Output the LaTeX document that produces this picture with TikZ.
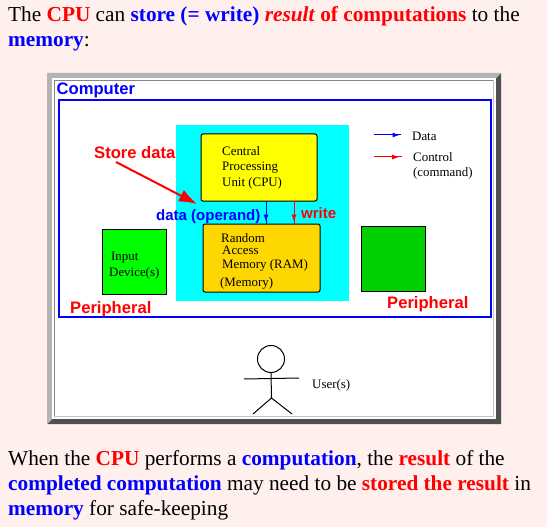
\documentclass[tikz,border=0pt]{standalone}
\usepackage{fontspec}
\setmainfont{Liberation Serif}
\newfontfamily\lsans{Liberation Sans}
\usetikzlibrary{arrows.meta,decorations.markings}
\definecolor{pagebg}{HTML}{FFF0EE}
\definecolor{blueT}{HTML}{0000FF}
\definecolor{redT}{HTML}{FF0000}
\definecolor{bezL}{HTML}{B4B4B4}
\definecolor{bezD}{HTML}{505050}
\definecolor{ramc}{HTML}{FFD700}
\definecolor{greenb}{HTML}{00D000}
\definecolor{cyanb}{HTML}{00FFFF}
\definecolor{yellowb}{HTML}{FFFF00}
\definecolor{greena}{HTML}{00FF00}
\tikzset{
  x=1pt,y=-1pt,
  line/.style={anchor=base west,inner sep=0pt,font=\fontsize{21.3}{24}\selectfont},
  lab/.style={anchor=base west,inner sep=0pt,font=\lsans\bfseries\fontsize{16.6}{18}\selectfont},
  labs/.style={anchor=base west,inner sep=0pt,font=\lsans\bfseries\fontsize{15}{18}\selectfont},
  small/.style={anchor=base west,inner sep=0pt,font=\fontsize{12.9}{14}\selectfont},
  boxr/.style={draw=black,line width=1pt,rounded corners=2pt,outer sep=0pt,inner sep=0pt,anchor=north west},
  boxs/.style={draw=black,line width=1pt,outer sep=0pt,inner sep=0pt,anchor=north west},
  flow/.style={line width=1pt,postaction={decorate},decoration={markings,mark=at position #1 with {\arrow{Latex[length=7pt,width=5pt]}}}},
  limb/.style={draw=black,line width=1pt},
}
\newcommand{\rd}[1]{\textcolor{redT}{\textbf{#1}}}
\newcommand{\bl}[1]{\textcolor{blueT}{\textbf{#1}}}
\begin{document}
\begin{tikzpicture}
\useasboundingbox (0,0) rectangle (547,527);
\fill[pagebg] (0,0) rectangle (547,527);
% bezel
\fill[bezD] (47,424) -- (501,424) -- (501,73) -- (496,78) -- (496,419) -- (52,419) -- cycle;
\fill[bezL] (47,424) -- (47,73) -- (501,73) -- (496,78) -- (52,78) -- (52,419) -- cycle;
\fill[white] (52,78) rectangle (496,419);
\draw[color=bezD!70,line width=.8pt] (54,416.5) -- (54,80) -- (493.5,80);
\draw[color=bezL!80,line width=.8pt] (54,416.5) -- (493.5,416.5) -- (493.5,80);
% computer
\node[draw=blueT,line width=2pt,minimum width=432pt,minimum height=217pt,inner sep=0pt,outer sep=0pt,anchor=north west] (computer) at (59,100) {};
\fill[cyanb] (176,125) rectangle (349,301);
\node[lab,text=blueT] (computerlabel) at (56.5,95) {Computer};
% boxes
\node[boxr,fill=yellowb,minimum width=116pt,minimum height=67pt] (cpu) at (201,134) {};
\node[boxr,fill=ramc,minimum width=117pt,minimum height=68pt] (ram) at (203,224) {};
\node[boxs,fill=greena,minimum width=64pt,minimum height=65pt] (input) at (102,229) {};
\node[boxs,fill=greenb,minimum width=64pt,minimum height=65pt] (output) at (361,226) {};
% cpu text
\node[small] (t1) at (222,156) {Central};
\node[small] (t2) at (222,171) {Processing};
\node[small] (t3) at (222,186) {Unit (CPU)};
% ram text
\node[small] (t4) at (221,242) {Random};
\node[small] (t5) at (222,254) {Access};
\node[small] (t6) at (222,268) {Memory (RAM)};
\node[small] (t7) at (220,286) {(Memory)};
% input text
\node[small] (t8) at (111,260) {Input};
\node[small] (t9) at (109,276) {Device(s)};
% connectors
\coordinate (cpuA) at (266,201); \coordinate (ramA) at (266,224);
\coordinate (cpuB) at (294,201); \coordinate (ramB) at (294,224);
\draw[blueT,flow=.9] (cpuA) -- (ramA);
\draw[redT,flow=.9] (cpuB) -- (ramB);
% labels
\node[lab,text=redT] (storelabel) at (94,158) {Store data};
\node[labs,text=blueT] (datalabel) at (156,220) {data (operand)};
\node[labs,text=redT] (writelabel) at (301,218) {write};
\node[lab,text=redT] (p1) at (70,313) {Peripheral};
\node[lab,text=redT] (p2) at (387,308) {Peripheral};
\coordinate (storeS) at (116,162); \coordinate (storeE) at (197,204);
\draw[redT,line width=2pt,-{Latex[length=18pt,width=13pt]}] (storeS) -- (storeE);
% legend
\coordinate (l1a) at (374,135); \coordinate (l1b) at (401,135);
\coordinate (l2a) at (374,157); \coordinate (l2b) at (402,157);
\draw[blueT,flow=.95] (l1a) -- (l1b);
\draw[redT,flow=.9] (l2a) -- (l2b);
\node[small] (ld) at (412,140) {Data};
\node[small] (lc) at (413,161) {Control};
\node[small] (lc2) at (413,176) {(command)};
% user
\node[draw=black,line width=1pt,circle,minimum size=27pt,inner sep=0pt,outer sep=0pt] (head) at (271,359) {};
\coordinate (hip) at (271.5,398); \coordinate (armL) at (244,379); \coordinate (armR) at (299,378);
\coordinate (legL) at (253,414); \coordinate (legR) at (292,414);
\draw[limb] (head.south) -- (hip);
\draw[limb] (armL) -- (armR);
\draw[limb] (legL) -- (hip) -- (legR);
\node[small] (user) at (312,388) {User(s)};
% page text
\node[line] (a1) at (8,22) {The \rd{CPU} can \bl{store (= write)} \textcolor{redT}{\textbf{\textit{result}}} \rd{of computations} to the};
\node[line] (a2) at (8,47) {\bl{memory}:};
\node[line] (b1) at (8,465) {When the \rd{CPU} performs a \bl{computation}, the \rd{result} of the};
\node[line] (b2) at (8,490) {\bl{completed computation} may need to be \rd{stored the result} in};
\node[line] (b3) at (8,515) {\bl{memory} for safe-keeping};
\end{tikzpicture}
\end{document}
